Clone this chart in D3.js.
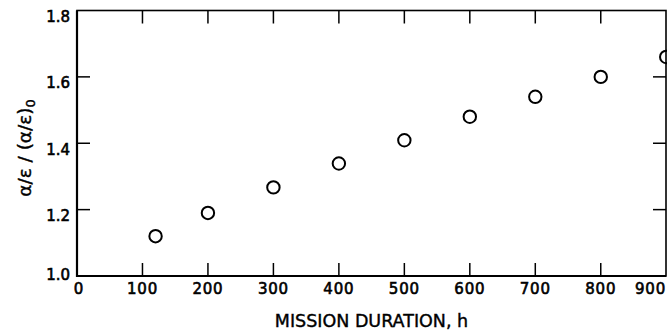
<!DOCTYPE html>
<html><head><meta charset="utf-8">
<script src="https://cdn.jsdelivr.net/npm/d3@7"></script>
<style>body{margin:0;background:#fff}svg{display:block}</style>
</head><body>
<svg id="c" width="667" height="334"></svg>
<script>
const durations = [120, 200, 300, 400, 500, 600, 700, 800, 900];
const ratios = [1.12, 1.19, 1.267, 1.339, 1.409, 1.48, 1.54, 1.60, 1.66];
const xTicks = [0, 100, 200, 300, 400, 500, 600, 700, 800, 900];
const yTicks = [1.0, 1.2, 1.4, 1.6, 1.8];
const xTitle = "MISSION DURATION, h";

const svg = d3.select("#c");
const L = 77, R = 666, T = 10.5, B = 276;
const x = d3.scaleLinear().domain([0, 900]).range([L, L + 900 * 0.6547]);
const y = d3.scaleLinear().domain([1.0, 1.8]).range([B, T]);
const font = "'DejaVu Sans', sans-serif";

// frame
svg.append("rect").attr("x", L).attr("y", T).attr("width", R - L).attr("height", B - T)
  .attr("fill", "none").attr("stroke", "#000").attr("stroke-width", 1.6);
svg.append("line").attr("x1", L).attr("x2", L).attr("y1", T).attr("y2", B + 1).attr("stroke", "#000").attr("stroke-width", 2.2);
svg.append("line").attr("x1", L).attr("x2", R).attr("y1", B).attr("y2", B).attr("stroke", "#000").attr("stroke-width", 2.2);

const tl = 13;
const inner = xTicks.filter(d => d > 0 && d < 900);
svg.append("g").selectAll("line").data(inner).join("line")
  .attr("x1", d => x(d)).attr("x2", d => x(d)).attr("y1", B).attr("y2", B - tl)
  .attr("stroke", "#000").attr("stroke-width", 1.5);
svg.append("g").selectAll("line").data(inner).join("line")
  .attr("x1", d => x(d)).attr("x2", d => x(d)).attr("y1", T).attr("y2", T + tl)
  .attr("stroke", "#000").attr("stroke-width", 1.5);
const innerY = yTicks.filter(d => d > 1.0 && d < 1.8);
svg.append("g").selectAll("line").data(innerY).join("line")
  .attr("x1", L).attr("x2", L + tl).attr("y1", d => y(d)).attr("y2", d => y(d))
  .attr("stroke", "#000").attr("stroke-width", 1.5);
svg.append("g").selectAll("line").data(innerY).join("line")
  .attr("x1", R).attr("x2", R - tl).attr("y1", d => y(d)).attr("y2", d => y(d))
  .attr("stroke", "#000").attr("stroke-width", 1.5);

// x tick labels
svg.append("g").selectAll("text").data(xTicks).join("text")
  .attr("x", d => d === 0 ? x(d) + 2 : (d === 900 ? R : x(d)))
  .attr("y", 294)
  .attr("text-anchor", d => d === 900 ? "end" : "middle")
  .attr("font-family", font).attr("font-size", 15).attr("letter-spacing", 0.8)
  .attr("stroke", "#000").attr("stroke-width", 0.6)
  .text(d => d);

// y tick labels
svg.append("g").selectAll("text").data(yTicks).join("text")
  .attr("x", 70).attr("y", d => y(d) + (d === 1.0 ? 4 : 11.5))
  .attr("text-anchor", "end")
  .attr("font-family", font).attr("font-size", 15)
  .attr("stroke", "#000").attr("stroke-width", 0.6)
  .text(d => d.toFixed(1));

// axis titles
svg.append("text").attr("x", 371.5).attr("y", 326.5).attr("text-anchor", "middle")
  .attr("font-family", font).attr("font-size", 17.5)
  .attr("stroke", "#000").attr("stroke-width", 0.4)
  .text(xTitle);

const yt = svg.append("text").attr("transform", "translate(31,148) rotate(-90)")
  .attr("text-anchor", "middle").attr("font-family", font).attr("font-size", 18.5)
  .attr("stroke", "#000").attr("stroke-width", 0.4);
yt.append("tspan").text("α/ε / (α/ε)");
yt.append("tspan").attr("font-size", 13).attr("dy", 4).text("0");

// points
const g = svg.append("g");
g.selectAll("circle").data(durations.map((d, i) => [d, ratios[i]])).join("circle")
  .attr("cx", d => x(d[0])).attr("cy", d => y(d[1])).attr("r", 6.2)
  .attr("fill", "none").attr("stroke", "#000").attr("stroke-width", 2);
</script>
</body></html>
